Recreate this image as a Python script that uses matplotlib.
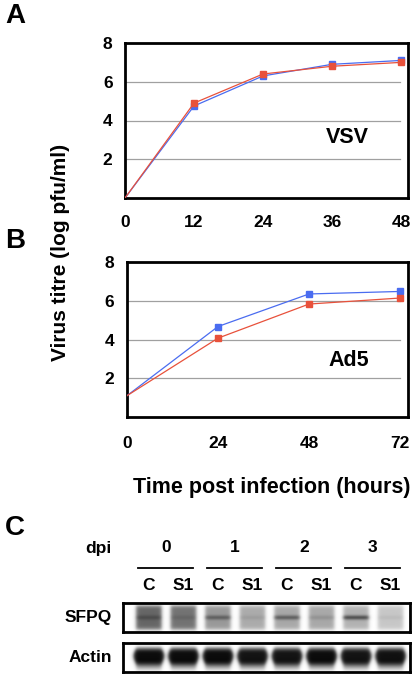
import matplotlib
matplotlib.use('Agg')
import matplotlib.pyplot as plt
import matplotlib.transforms as mtransforms
import numpy as np

plt.rcParams['font.family'] = ['Liberation Sans', 'DejaVu Sans']
plt.rcParams['font.weight'] = 'bold'

# Panel A: VSV growth curve
vsv_hours = [0, 12, 24, 36, 48]
vsv_control = [0.0, 4.75, 6.3, 6.9, 7.1]
vsv_sfpq = [0.0, 4.9, 6.4, 6.8, 7.0]

# Panel B: Ad5 growth curve
ad5_hours = [0, 24, 48, 72]
ad5_control = [1.1, 4.67, 6.35, 6.48]
ad5_sfpq = [1.1, 4.07, 5.83, 6.14]

y_ticks = [2, 4, 6, 8]

# Panel C: western blot, per-lane band strength (0 = blank, 1 = black)
dpi_labels = ['0', '1', '2', '3']
lane_labels = ['C', 'S1'] * 4
sfpq_smear = [0.60, 0.55, 0.40, 0.33, 0.34, 0.34, 0.30, 0.22]
sfpq_band = [0.10, 0.05, 0.22, 0.05, 0.28, 0.08, 0.38, 0.04]
actin_band = [0.95, 0.95, 0.95, 0.92, 0.92, 0.95, 0.92, 0.93]

blue = '#4a6cf0'
red = '#e8513b'

W, H = 420, 678
fig = plt.figure(figsize=(W / 100, H / 100), dpi=100)


def box(x0, y0, x1, y1):
    # pixel box (top-left origin) -> figure fraction rect
    return [x0 / W, 1 - y1 / H, (x1 - x0) / W, (y1 - y0) / H]


def growth_axes(rect, hours, ctrl, kd, xmax, label, label_xy, xpad):
    ax = fig.add_axes(rect)
    for y in [2, 4, 6]:
        ax.axhline(y, xmin=0, xmax=0.97, color='#a0a0a0', lw=0.9, zorder=1)
    # first point sits on the frame, no marker visible there
    ax.plot(hours, ctrl, color=blue, lw=0.9, marker='s', ms=4,
            markevery=slice(1, None), zorder=3)
    ax.plot(hours, kd, color=red, lw=0.9, marker='s', ms=4,
            markevery=slice(1, None), zorder=4)
    ax.set_xlim(0, xmax)
    ax.set_ylim(0, 8)
    ax.set_xticks(hours)
    ax.set_yticks(y_ticks)
    ax.tick_params(length=0, labelsize=12.5)
    ax.tick_params(axis='x', pad=xpad)
    ax.tick_params(axis='y', pad=9)
    for s in ax.spines.values():
        s.set_linewidth(2.0)
    ax.text(label_xy[0], label_xy[1], label, fontsize=15.5, fontweight='bold',
            ha='center', va='center')
    return ax


growth_axes(box(125, 43, 408, 198), vsv_hours, vsv_control, vsv_sfpq,
            49.2, 'VSV', (38.7, 3.1), 12)
growth_axes(box(127, 262, 408, 417), ad5_hours, ad5_control, ad5_sfpq,
            74.1, 'Ad5', (58.4, 2.9), 13.5)

fig.text(61 / W, 1 - 252 / H, 'Virus titre (log pfu/ml)', rotation=90,
         fontsize=15, fontweight='bold', ha='center', va='center')
fig.text(272 / W, 1 - 487 / H, 'Time post infection (hours)',
         fontsize=15.5, fontweight='bold', ha='center', va='center')

for letter, (x, y) in zip('ABC', [(5, 16), (5, 241), (5, 528)]):
    fig.text(x / W, 1 - y / H, letter, fontsize=20, fontweight='bold',
             ha='left', va='center')

# Panel C: blot strips
xlim = (-0.74, 7.58)
xs = np.linspace(xlim[0], xlim[1], 400)
ys = np.linspace(0, 1, 60)
X, Y = np.meshgrid(xs, ys)


def lane_profile(i, half):
    return 1 / (1 + np.exp((np.abs(X - i) - half) / 0.03))


sfpq_img = np.zeros_like(X)
actin_img = np.zeros_like(X)
for i in range(8):
    p = lane_profile(i, 0.37)
    fade = 1 / (1 + np.exp((np.abs(Y - 0.5) - 0.42) / 0.04))
    sfpq_img += p * fade * (sfpq_smear[i] + sfpq_band[i] * np.exp(-((Y - 0.5) / 0.08) ** 2))
    # actin blob: wider in the middle of the band, narrower at top and bottom
    half = 0.36 + 0.08 * np.exp(-((Y - 0.55) / 0.25) ** 2)
    pa = 1 / (1 + np.exp((np.abs(X - i) - half) / 0.03))
    actin_img += pa * (actin_band[i] * np.exp(-((Y - 0.55) / 0.3) ** 4)
                       + 0.35 * np.exp(-((Y - 0.2) / 0.15) ** 2))

blot_axes = []
for img, (y0, y1), name in [(sfpq_img, (603, 632), 'SFPQ'),
                            (actin_img, (643, 672), 'Actin')]:
    ax = fig.add_axes(box(123, y0, 410, y1))
    ax.imshow(np.clip(img, 0, 1), cmap='gray_r', vmin=0, vmax=1, aspect='auto',
              extent=(xlim[0], xlim[1], 0, 1), origin='lower',
              interpolation='bilinear')
    ax.set_xticks([])
    ax.set_yticks([])
    for s in ax.spines.values():
        s.set_linewidth(2.0)
    fig.text(112 / W, 1 - (y0 + y1) / 2 / H, name, fontsize=12.5,
             fontweight='bold', ha='right', va='center')
    blot_axes.append(ax)

top = blot_axes[0]
tr = mtransforms.blended_transform_factory(top.transData, fig.transFigure)
fig.text(112 / W, 1 - 548 / H, 'dpi', fontsize=12.5, fontweight='bold',
         ha='right', va='center')
for k, lab in enumerate(dpi_labels):
    c = 2 * k + 0.5
    top.text(c, 1 - 548 / H, lab, transform=tr, fontsize=12.5,
             fontweight='bold', ha='center', va='center')
    top.plot([c - 0.8, c + 0.8], [1 - 568 / H] * 2, transform=tr,
             color='black', lw=1.3, clip_on=False)
for i, lab in enumerate(lane_labels):
    top.text(i, 1 - 586 / H, lab, transform=tr, fontsize=12.5,
             fontweight='bold', ha='center', va='center')

fig.savefig('out.png', dpi=100)
